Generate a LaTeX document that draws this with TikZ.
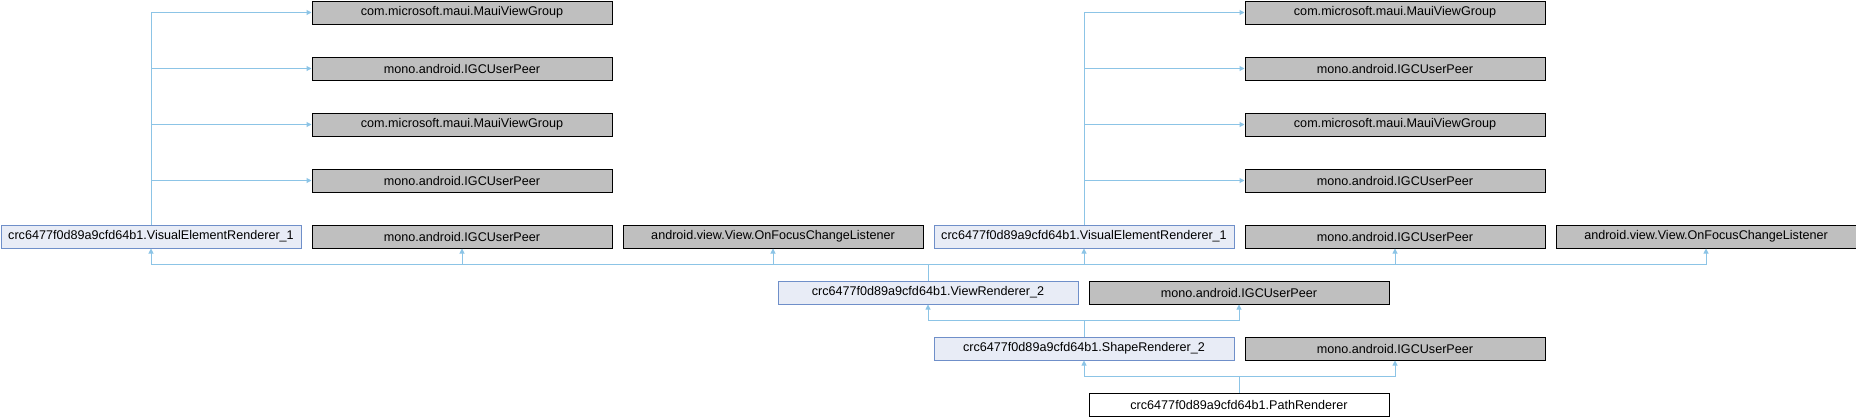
\documentclass[tikz,border=0pt]{standalone}
\usepackage{fontspec}
\setmainfont{Liberation Sans}
\usetikzlibrary{arrows.meta}
\definecolor{edgec}{HTML}{8CC4E6}
\definecolor{docfill}{HTML}{E8ECF6}
\definecolor{docdraw}{HTML}{6F8FC9}
\definecolor{undocfill}{HTML}{BFBFBF}
\begin{document}
\begin{tikzpicture}[x=1pt,y=-1pt,
  box/.style={anchor=north west, minimum width=300pt, minimum height=23pt, inner sep=0pt, line width=1pt, font=\fontsize{12.6}{14}\selectfont},
  docbox/.style={box, fill=docfill, draw=docdraw},
  undocbox/.style={box, fill=undocfill, draw=black},
  curbox/.style={box, fill=white, draw=black},
  inh/.style={draw=edgec, line width=1pt, -{Triangle[length=5pt,width=5pt]}}
]
\useasboundingbox (0,0) rectangle (1856,416);
% top rows, left group
\node[undocbox] (bl0) at (311.5,0.5) {com.microsoft.maui.MauiViewGroup};
\node[undocbox] (bl1) at (311.5,56.5) {mono.android.IGCUserPeer};
\node[undocbox] (bl2) at (311.5,112.5) {com.microsoft.maui.MauiViewGroup};
\node[undocbox] (bl3) at (311.5,168.5) {mono.android.IGCUserPeer};
% top rows, right group
\node[undocbox] (br0) at (1244.5,0.5) {com.microsoft.maui.MauiViewGroup};
\node[undocbox] (br1) at (1244.5,56.5) {mono.android.IGCUserPeer};
\node[undocbox] (br2) at (1244.5,112.5) {com.microsoft.maui.MauiViewGroup};
\node[undocbox] (br3) at (1244.5,168.5) {mono.android.IGCUserPeer};
% row 4
\node[docbox]   (vea) at (0.5,224.5) {crc6477f0d89a9cfd64b1.VisualElementRenderer\_1};
\node[undocbox] (pb)  at (311.5,224.5) {mono.android.IGCUserPeer};
\node[undocbox] (fc)  at (622.5,224.5) {android.view.View.OnFocusChangeListener};
\node[docbox]   (ved) at (933.5,224.5) {crc6477f0d89a9cfd64b1.VisualElementRenderer\_1};
\node[undocbox] (pe)  at (1244.5,224.5) {mono.android.IGCUserPeer};
\node[undocbox] (ff)  at (1555.5,224.5) {android.view.View.OnFocusChangeListener};
% row 5
\node[docbox]   (vr)  at (777.5,280.5) {crc6477f0d89a9cfd64b1.ViewRenderer\_2};
\node[undocbox] (pvr) at (1088.5,280.5) {mono.android.IGCUserPeer};
% row 6
\node[docbox]   (sr)  at (933.5,336.5) {crc6477f0d89a9cfd64b1.ShapeRenderer\_2};
\node[undocbox] (psr) at (1244.5,336.5) {mono.android.IGCUserPeer};
% row 7
\node[curbox]   (pr)  at (1088.5,392.5) {crc6477f0d89a9cfd64b1.PathRenderer};
% fans from VisualElementRenderer_1
\foreach \k in {0,1,2,3} {
  \draw[inh] (vea.north) |- (bl\k.west);
  \draw[inh] (ved.north) |- (br\k.west);
}
% ViewRenderer_2 bases
\path (vr.north) ++(0,-16) coordinate (vrbus);
\foreach \t in {vea,pb,fc,ved,pe,ff} {
  \draw[inh] (vr.north) -- (vrbus) -| (\t.south);
}
% ShapeRenderer_2 bases
\path (sr.north) ++(0,-16) coordinate (srbus);
\foreach \t in {vr,pvr} {
  \draw[inh] (sr.north) -- (srbus) -| (\t.south);
}
% PathRenderer bases
\path (pr.north) ++(0,-16) coordinate (prbus);
\foreach \t in {sr,psr} {
  \draw[inh] (pr.north) -- (prbus) -| (\t.south);
}
\end{tikzpicture}
\end{document}
